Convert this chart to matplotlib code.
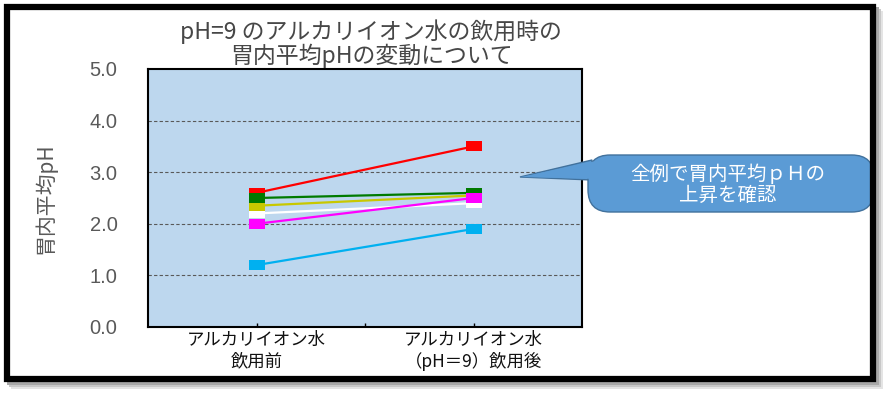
import matplotlib.pyplot as plt
from matplotlib.patches import Rectangle, FancyBboxPatch, Polygon

plt.rcParams['font.family'] = ['Noto Sans CJK JP', 'DejaVu Sans']

# data
categories = ['アルカリイオン水\n飲用前', 'アルカリイオン水\n（pH＝9）飲用後']
series_colors = ['#FFFFFF', '#C8C800', '#00B0F0', '#FF0000', '#007A00', '#FF00FF']
ph_before = [2.2, 2.35, 1.2, 2.6, 2.5, 2.0]
ph_after = [2.4, 2.55, 1.9, 3.5, 2.6, 2.5]
y_ticks = [0.0, 1.0, 2.0, 3.0, 4.0, 5.0]

W, H = 889, 395


def fx(px):
    return px / W


def fy(py):
    return 1 - py / H


fig = plt.figure(figsize=(W / 100, H / 100), dpi=100)
fig.patch.set_facecolor('white')

# outer frame: soft shadow, white inside, black border on top
for off, col in [(7, '#E4E4E4'), (5, '#C8C8C8'), (3, '#A8A8A8')]:
    fig.patches.append(Rectangle((fx(4 + off), fy(382 + off)), fx(876) - fx(4), fy(4) - fy(382),
                                 transform=fig.transFigure, facecolor=col,
                                 edgecolor='none', zorder=-3))
fig.patches.append(Rectangle((fx(4), fy(382)), fx(876) - fx(4), fy(4) - fy(382),
                             transform=fig.transFigure, facecolor='white',
                             edgecolor='none', zorder=-2))

# plot area
ax = fig.add_axes([fx(148), fy(327), fx(582) - fx(148), fy(69) - fy(327)])
ax.set_facecolor('#BDD7EE')

rect_marker = [(-1, -0.6), (1, -0.6), (1, 0.6), (-1, 0.6), (-1, -0.6)]
x = list(range(len(categories)))
for c, b, a in zip(series_colors, ph_before, ph_after):
    ax.plot(x, [b, a], color=c, linewidth=1.6, marker=rect_marker,
            markersize=12, markeredgewidth=0, zorder=3)

ax.set_xlim(-0.5, 1.5)
ax.set_ylim(0, 5)
ax.set_yticks(y_ticks)
ax.set_yticklabels([f'{v:.1f}' for v in y_ticks], fontsize=14.5, color='#595959',
                   family='Liberation Sans')
ax.set_xticks(x)
ax.set_xticklabels(categories, fontsize=12.5, color='#111111', linespacing=1.2)
ax.set_xticks([0.5], minor=True)
ax.tick_params(axis='y', length=0, pad=22)
ax.tick_params(axis='x', which='both', direction='in', length=3, width=1, pad=3)

for v in y_ticks[1:-1]:
    ax.axhline(v, color='#595959', linestyle=(0, (3, 2)), linewidth=0.8, zorder=1)

for s in ax.spines.values():
    s.set_linewidth(1.5)
    s.set_color('black')

ax.set_ylabel('胃内平均pH', fontsize=15, color='#595959')
ax.yaxis.set_label_coords((56 - 148) / 434, 0.5)

# title
fig.text(fx(371), fy(44), 'pH=9 のアルカリイオン水の飲用時の\n胃内平均pHの変動について',
         ha='center', va='center', fontsize=16.5, color='#474747', linespacing=1.0)

# callout
wedge_edge = Polygon([(fx(520), fy(177)), (fx(592), fy(160)), (fx(592), fy(180))],
                     closed=True, transform=fig.transFigure, facecolor='#5B9BD5',
                     edgecolor='#41719C', linewidth=1, zorder=5)
box = FancyBboxPatch((fx(588), fy(212)), fx(874) - fx(588), fy(155) - fy(212),
                     boxstyle='round,pad=0,rounding_size=0.025', transform=fig.transFigure,
                     facecolor='#5B9BD5', edgecolor='#41719C', linewidth=1, zorder=6,
                     mutation_aspect=W / H)
wedge_fill = Polygon([(fx(521), fy(177)), (fx(596), fy(161)), (fx(596), fy(179))],
                     closed=True, transform=fig.transFigure, facecolor='#5B9BD5',
                     edgecolor='none', zorder=7)
for p in (wedge_edge, box, wedge_fill):
    fig.patches.append(p)
fig.text(fx(728), fy(185), '全例で胃内平均ｐＨの\n上昇を確認', ha='center', va='center',
         fontsize=14, color='white', linespacing=1.0, zorder=8)

frame = Rectangle((fx(7), fy(379)), fx(873) - fx(7), fy(7) - fy(379),
                  transform=fig.transFigure, fill=False, edgecolor='black',
                  linewidth=4.5, zorder=10)
fig.patches.append(frame)

fig.savefig('out.png', dpi=100)
